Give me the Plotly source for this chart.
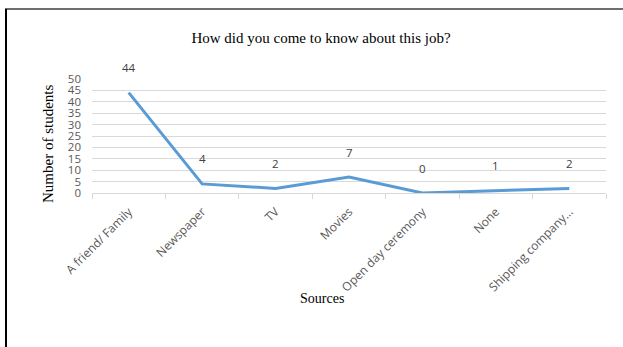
import plotly.graph_objects as go

categories = ["A friend/ Family", "Newspaper", "TV", "Movies", "Open day ceremony", "None", "Shipping company…"]
students = [44, 4, 2, 7, 0, 1, 2]
y_ticks = list(range(0, 51, 5))

W, H = 623, 347
L, R, T, B = 92, 17, 79, 154
pw, ph = W - L - R, H - T - B

def px_x(p):
    return (p - L) / pw

def px_y(p):
    return (H - B - p) / ph

fig = go.Figure()
fig.add_trace(go.Scatter(
    x=categories, y=students, mode="lines",
    line=dict(color="#5B9BD5", width=3),
    hoverinfo="x+y", showlegend=False,
))

for c, v in zip(categories, students):
    fig.add_annotation(x=c, y=v, text=str(v), showarrow=False, yshift=25,
                       font=dict(family="Open Sans", size=11.5, color="#404040"))

fig.add_annotation(xref="paper", yref="paper", x=px_x(322), y=px_y(298), text="Sources",
                   xanchor="center", yanchor="middle",
                   showarrow=False, font=dict(family="Liberation Serif", size=14, color="#000"))
fig.add_annotation(xref="paper", yref="paper", x=px_x(48), y=px_y(144), text="Number of students",
                   xanchor="center", yanchor="middle", textangle=-90,
                   showarrow=False, font=dict(family="Liberation Serif", size=15, color="#000"))

fig.update_layout(
    width=W, height=H,
    margin=dict(l=L, r=R, t=T, b=B),
    paper_bgcolor="white", plot_bgcolor="white",
    title=dict(text="How did you come to know about this job?", x=321 / W, xanchor="center",
               y=1 - 38 / H, yanchor="middle", yref="container", xref="container",
               font=dict(family="Liberation Serif", size=15, color="#000")),
    xaxis=dict(type="category", tickangle=-45, tickson="boundaries", ticks="outside",
               ticklen=5, tickcolor="#d9d9d9", showline=True, linecolor="#d9d9d9",
               showgrid=False, ticklabelstandoff=6,
               tickfont=dict(family="Open Sans", size=12, color="#595959"),
               range=[-0.5, 6.5]),
    yaxis=dict(range=[0, 50], tickvals=y_ticks, showgrid=True, gridcolor="#d9d9d9",
               zeroline=False, showline=False, ticks="", ticklabelstandoff=10,
               tickfont=dict(family="Open Sans", size=11.5, color="#595959")),
    shapes=[
        dict(type="line", xref="paper", yref="paper", x0=px_x(5), x1=px_x(640),
             y0=px_y(9), y1=px_y(9), line=dict(color="#6e6e6e", width=2)),
        dict(type="line", xref="paper", yref="paper", x0=px_x(6), x1=px_x(6),
             y0=px_y(9), y1=px_y(360), line=dict(color="#000", width=2)),
    ],
)

fig.write_html("out.html")
